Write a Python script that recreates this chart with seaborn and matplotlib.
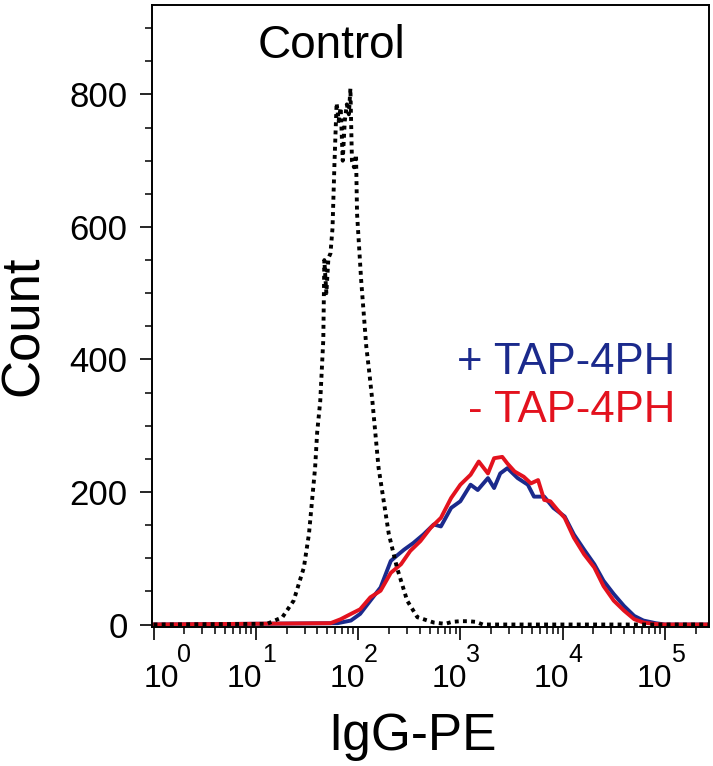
import numpy as np
import pandas as pd
import matplotlib
matplotlib.use('Agg')
import matplotlib.pyplot as plt
import seaborn as sns
from matplotlib.ticker import LogLocator, NullFormatter, MultipleLocator
from matplotlib.transforms import ScaledTranslation

# histogram values, x given as log10(IgG-PE)
CONTROL_LOG = [0.0, 1.11, 1.26, 1.37, 1.47, 1.52, 1.58, 1.60, 1.63, 1.66, 1.67, 1.69,
               1.71, 1.73, 1.75, 1.77, 1.79, 1.81, 1.83, 1.85, 1.87, 1.89, 1.91, 1.925,
               1.94, 1.96, 1.98, 1.99, 2.01, 2.03, 2.05, 2.08, 2.11, 2.14, 2.20, 2.25,
               2.30, 2.38, 2.48, 2.58, 2.74, 2.85, 2.92, 3.00, 3.08, 3.15, 3.22, 5.43]
CONTROL_COUNT = [0, 1, 11, 36, 86, 137, 237, 290, 337, 430, 550, 500,
                 553, 560, 598, 700, 787, 760, 780, 700, 760, 785, 770, 809,
                 700, 690, 709, 620, 570, 520, 480, 420, 380, 337, 237, 187,
                 137, 86, 36, 11, 3, 1, 4, 5, 5, 4, 0, 0]

PLUS_LOG = [0.0, 1.80, 1.93, 2.02, 2.12, 2.22, 2.32, 2.38, 2.45, 2.54, 2.64, 2.74,
            2.81, 2.91, 3.00, 3.10, 3.17, 3.27, 3.33, 3.39, 3.46, 3.56, 3.66, 3.72,
            3.82, 3.91, 4.02, 4.11, 4.21, 4.31, 4.40, 4.50, 4.60, 4.70, 4.79, 4.91,
            5.00, 5.43]
PLUS_COUNT = [0, 2, 6, 16, 36, 56, 96, 104, 113, 123, 136, 151,
              148, 176, 186, 211, 203, 221, 206, 228, 236, 221, 211, 193,
              193, 176, 163, 136, 113, 91, 66, 46, 28, 13, 6, 2,
              0, 0]

MINUS_LOG = [0.0, 1.73, 1.83, 1.93, 2.02, 2.12, 2.22, 2.32, 2.42, 2.51, 2.61, 2.71,
             2.81, 2.91, 3.00, 3.10, 3.18, 3.27, 3.33, 3.41, 3.46, 3.53, 3.62, 3.69,
             3.76, 3.82, 3.88, 3.95, 4.02, 4.11, 4.21, 4.31, 4.40, 4.50, 4.60, 4.70,
             4.79, 4.89, 4.98, 5.43]
MINUS_COUNT = [0, 2, 8, 16, 23, 41, 51, 78, 91, 111, 126, 146,
               161, 191, 211, 226, 246, 228, 251, 253, 243, 231, 223, 213,
               218, 188, 186, 173, 161, 131, 106, 86, 58, 36, 21, 8,
               3, 1, 0, 0]

Y_TICKS = [0, 200, 400, 600, 800]
DECADES = [0, 1, 2, 3, 4, 5]

BLUE = '#1b2a8c'
RED = '#e3121e'

sns.set_style('ticks')
plt.rcParams['font.family'] = ['Liberation Sans', 'DejaVu Sans']
plt.rcParams['text.color'] = 'black'
plt.rcParams['axes.labelcolor'] = 'black'


def to_frame(logs, counts):
    return pd.DataFrame({'IgG-PE': np.power(10.0, logs), 'Count': counts})


fig = plt.figure(figsize=(7.13, 7.66), dpi=100)
ax = fig.add_axes([152 / 713, 1 - 626.5 / 766, 557 / 713, 621.5 / 766])

sns.lineplot(data=to_frame(PLUS_LOG, PLUS_COUNT), x='IgG-PE', y='Count',
             color=BLUE, linewidth=2.8, ax=ax)
sns.lineplot(data=to_frame(MINUS_LOG, MINUS_COUNT), x='IgG-PE', y='Count',
             color=RED, linewidth=2.8, ax=ax)
sns.lineplot(data=to_frame(CONTROL_LOG, CONTROL_COUNT), x='IgG-PE', y='Count',
             color='black', linewidth=2.8, linestyle=(0, (1, 1.1)), ax=ax)

ax.set_xscale('log')
ax.set_xlim(10 ** -0.015, 2.7e5)
ax.set_ylim(-3, 935)

ax.set_xticks([10.0 ** d for d in DECADES])
ax.xaxis.set_minor_locator(LogLocator(base=10, subs=np.arange(2, 10), numticks=12))
ax.xaxis.set_minor_formatter(NullFormatter())
ax.set_xticklabels(['10' for d in DECADES])
ax.set_yticks(Y_TICKS)
ax.yaxis.set_minor_locator(MultipleLocator(50))

for s in ax.spines.values():
    s.set_linewidth(1.4)
    s.set_color('black')
ax.tick_params(axis='both', which='both', color='black', labelcolor='black')
ax.tick_params(axis='x', which='major', length=9, width=1.2, labelsize=23, pad=18)
ax.tick_params(axis='x', which='minor', length=5, width=1.1)
ax.tick_params(axis='y', which='major', length=8.5, width=1.2, labelsize=25, pad=9)
ax.tick_params(axis='y', which='minor', length=5, width=1.1)

# "10" sits a little left of its tick, the exponent up and to the right
for lab, d in zip(ax.get_xticklabels(), DECADES):
    dx = 8 if d == 0 else -11
    lab.set_transform(lab.get_transform() + ScaledTranslation(dx / 100, 0, fig.dpi_scale_trans))
    ax.annotate(str(d), xy=(10.0 ** d, 0), xycoords=('data', 'axes fraction'),
                xytext=(16.6 if d == 0 else 4.3, -25.3), textcoords='offset points',
                ha='left', va='baseline', fontsize=18, color='black',
                annotation_clip=False)

ax.set_xlabel('IgG-PE', fontsize=37)
ax.xaxis.set_label_coords(0.4677, -0.1987)
ax.xaxis.label.set_va('baseline')
ax.set_ylabel('Count', fontsize=38)
ax.yaxis.set_label_coords(-0.2298, 0.4838)
ax.yaxis.label.set_va('center')

ax.text(0.3226, 0.9147, 'Control', transform=ax.transAxes, fontsize=33,
        ha='center', va='baseline', color='black')
ax.text(0.939, 0.4063, '+ TAP-4PH', transform=ax.transAxes, fontsize=31.5,
        ha='right', va='baseline', color=BLUE)
ax.text(0.939, 0.3295, '- TAP-4PH', transform=ax.transAxes, fontsize=31.5,
        ha='right', va='baseline', color=RED)

fig.savefig('out.png', dpi=100)
